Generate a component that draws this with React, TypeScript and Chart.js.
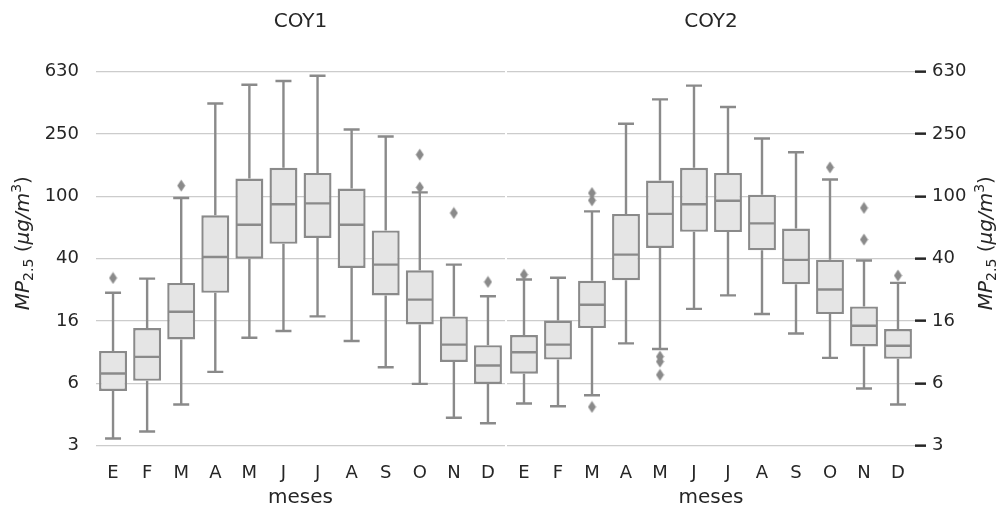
import React, { useEffect, useRef } from "react";
import { Chart, registerables } from "chart.js";

Chart.register(...registerables);

// ---------- data ----------
const months = ["E", "F", "M", "A", "M", "J", "J", "A", "S", "O", "N", "D"];
const yTickValues = [2.56, 6.4, 16, 40, 100, 250, 625];
const yTickLabels = ["3", "6", "16", "40", "100", "250", "630"];

const coy1Low = [2.84, 3.15, 4.68, 7.56, 12.5, 13.8, 17.1, 11.9, 8.09, 6.34, 3.85, 3.55];
const coy1Q1 = [5.72, 6.63, 12.2, 24.2, 40.0, 49.7, 54.2, 34.9, 23.3, 15.2, 8.76, 6.34];
const coy1Median = [7.38, 9.43, 18.3, 41.0, 65.9, 88.9, 90.2, 65.9, 36.6, 21.9, 11.3, 8.3];
const coy1Q3 = [10.3, 14.4, 28.0, 75.6, 130, 152, 141, 112, 60.6, 33.7, 17.1, 11.2];
const coy1High = [24.2, 29.8, 97.6, 392, 516, 545, 589, 267, 241, 106, 36.6, 23.0];
const coy1Outliers: [number, number][] = [
  [0, 30.1], [2, 117], [9, 184.5], [9, 114], [10, 78.3], [11, 28.4],
];

const coy2Low = [4.75, 4.56, 5.36, 11.5, 10.6, 19.1, 23.3, 17.7, 13.3, 9.29, 5.92, 4.68];
const coy2Q1 = [7.36, 9.07, 14.4, 29.1, 46.8, 59.3, 59.1, 45.2, 27.4, 17.7, 11.0, 9.16];
const coy2Median = [10.1, 11.3, 20.3, 42.4, 77.2, 88.9, 93.8, 67.2, 39.3, 25.4, 14.9, 11.1];
const coy2Q3 = [13.0, 16.1, 28.9, 77.2, 126, 152, 141, 102.5, 62.2, 39.4, 19.8, 14.2];
const coy2High = [29.4, 30.2, 80.2, 291, 416, 509, 372, 234, 191, 128, 38.9, 28.0];
const coy2Outliers: [number, number][] = [
  [0, 31.6], [2, 105], [2, 94.3], [2, 4.52], [4, 9.47], [4, 8.8], [4, 7.24],
  [9, 153], [10, 84.3], [10, 52.9], [11, 31.2],
];

const panelTitles = ["COY1", "COY2"];
const xTitle = "meses";
// y-axis title pieces: text, italic, small, vertical shift
const yTitleParts: [string, boolean, boolean, number][] = [
  ["MP", true, false, 0],
  ["2.5", false, true, 4],
  [" (", false, false, 0],
  ["\u03bcg/m", true, false, 0],
  ["3", false, true, -8],
  [")", false, false, 0],
];

// ---------- styles ----------
const LINE = "#8a8a8a";
const FILL = "#e5e5e5";
const GRID = "#cccccc";
const TEXT = "#262626";
const FONT = "'DejaVu Sans', sans-serif";
const LW = 2.4;
const Y_MIN = 2.07;
const Y_MAX = 855;

Chart.defaults.font.family = FONT;

type Stats = { low: number[]; q1: number[]; med: number[]; q3: number[]; high: number[] };

function makeDiamond(): HTMLCanvasElement {
  const c = document.createElement("canvas");
  c.width = 9;
  c.height = 13;
  const g = c.getContext("2d")!;
  g.fillStyle = LINE;
  g.beginPath();
  g.moveTo(4.5, 0.5);
  g.lineTo(8.5, 6.5);
  g.lineTo(4.5, 12.5);
  g.lineTo(0.5, 6.5);
  g.closePath();
  g.fill();
  return c;
}

// split the outlier list into layers of one value (or null) per month
function outlierLayers(list: [number, number][]): (number | null)[][] {
  const layers: (number | null)[][] = [];
  const count = months.map(() => 0);
  list.forEach(([i, v]) => {
    const k = count[i]++;
    if (!layers[k]) layers[k] = months.map(() => null);
    layers[k][i] = v;
  });
  return layers;
}

function makeBoxPlugin(s: Stats) {
  return {
    id: "boxWhiskers",
    afterDatasetsDraw(chart: any) {
      const xs = chart.scales.x;
      const ys = chart.scales.y;
      const ctx = chart.ctx as CanvasRenderingContext2D;
      const meta = chart.getDatasetMeta(0);
      ctx.save();
      ctx.strokeStyle = LINE;
      ctx.lineWidth = LW;
      ctx.lineCap = "butt";
      s.low.forEach((lo, i) => {
        const cx = xs.getPixelForValue(i);
        const bw = meta.data[i] ? meta.data[i].getProps(["width"], true).width : 28;
        const half = bw / 2;
        const cap = 8;
        const yLo = ys.getPixelForValue(lo);
        const yQ1 = ys.getPixelForValue(s.q1[i]);
        const yMed = ys.getPixelForValue(s.med[i]);
        const yQ3 = ys.getPixelForValue(s.q3[i]);
        const yHi = ys.getPixelForValue(s.high[i]);
        ctx.beginPath();
        ctx.moveTo(cx, yQ3);
        ctx.lineTo(cx, yHi);
        ctx.moveTo(cx - cap, yHi);
        ctx.lineTo(cx + cap, yHi);
        ctx.moveTo(cx, yQ1);
        ctx.lineTo(cx, yLo);
        ctx.moveTo(cx - cap, yLo);
        ctx.lineTo(cx + cap, yLo);
        ctx.moveTo(cx - half + 1, yMed);
        ctx.lineTo(cx + half - 1, yMed);
        ctx.stroke();
      });
      ctx.restore();
    },
  };
}

function makeYTitlePlugin(xPos: number) {
  return {
    id: "yTitleRich",
    afterDraw(chart: any) {
      const ctx = chart.ctx as CanvasRenderingContext2D;
      const ca = chart.chartArea;
      const cy = (ca.top + ca.bottom) / 2 - 12;
      const big = 20;
      const small = 14;
      const fontFor = (it: boolean, sm: boolean) =>
        `${it ? "italic " : ""}${sm ? small : big}px ${FONT}`;
      ctx.save();
      let total = 0;
      yTitleParts.forEach(([t, it, sm]) => {
        ctx.font = fontFor(it, sm);
        total += ctx.measureText(t).width;
      });
      ctx.translate(xPos, cy);
      ctx.rotate(-Math.PI / 2);
      ctx.fillStyle = TEXT;
      ctx.textBaseline = "alphabetic";
      ctx.textAlign = "left";
      let px = -total / 2;
      const base = 7;
      yTitleParts.forEach(([t, it, sm, dy]) => {
        ctx.font = fontFor(it, sm);
        ctx.fillText(t, px, base + dy);
        px += ctx.measureText(t).width;
      });
      ctx.restore();
    },
  };
}

function buildChart(
  canvas: HTMLCanvasElement,
  title: string,
  s: Stats,
  outliers: [number, number][],
  side: "left" | "right",
  diamond: HTMLCanvasElement
) {
  const isLeft = side === "left";
  const outlierSets = outlierLayers(outliers).map((layer) => ({
    type: "line",
    data: layer,
    showLine: false,
    pointStyle: diamond,
    pointRadius: 4,
    backgroundColor: LINE,
    borderColor: LINE,
    order: 1,
  }));
  return new Chart(canvas, {
    type: "bar",
    data: {
      labels: months,
      datasets: [
        {
          type: "bar",
          data: s.q1.map((v, i) => [v, s.q3[i]]) as any,
          backgroundColor: FILL,
          borderColor: LINE,
          borderWidth: LW,
          borderSkipped: false,
          barPercentage: 0.82,
          categoryPercentage: 1,
          order: 2,
        } as any,
        ...(outlierSets as any[]),
      ],
    },
    options: {
      animation: false,
      responsive: false,
      events: [],
      layout: {
        autoPadding: false,
        padding: { left: isLeft ? 0 : 1, right: isLeft ? 1 : 0, top: 0, bottom: 0 },
      },
      plugins: {
        legend: { display: false },
        tooltip: { enabled: false },
        title: {
          display: true,
          text: title,
          fullSize: false,
          color: TEXT,
          font: { size: 20, weight: "normal" as any, family: FONT },
          padding: { top: 10, bottom: 16.4 },
        },
      },
      scales: {
        x: {
          type: "category",
          offset: true,
          grid: { display: false, drawTicks: false },
          border: { display: false },
          ticks: { color: TEXT, font: { size: 18, family: FONT }, padding: 3 },
          title: {
            display: true,
            text: xTitle,
            color: TEXT,
            font: { size: 20, family: FONT },
            padding: { top: 0, bottom: -2 },
          },
          afterFit: (sc: any) => {
            sc.height = 48;
            sc.paddingLeft = 0;
            sc.paddingRight = 0;
          },
        },
        y: {
          type: "logarithmic",
          position: side,
          min: Y_MIN,
          max: Y_MAX,
          grid: {
            color: GRID,
            lineWidth: 1.3,
            drawTicks: !isLeft,
            tickLength: 11,
            tickColor: TEXT,
            tickWidth: 2.5,
          },
          border: { display: false },
          ticks: {
            color: TEXT,
            font: { size: 18, family: FONT },
            padding: isLeft ? 17 : 6,
            autoSkip: false,
            callback: (_v: any, i: number) => yTickLabels[i],
          },
          afterBuildTicks: (sc: any) => {
            sc.ticks = yTickValues.map((v) => ({ value: v }));
          },
          afterFit: (sc: any) => {
            sc.width = isLeft ? 96 : 85;
          },
        },
      },
    } as any,
    plugins: [makeBoxPlugin(s), makeYTitlePlugin(isLeft ? 22 : 479)],
  });
}

export default function App() {
  const leftRef = useRef<HTMLCanvasElement>(null);
  const rightRef = useRef<HTMLCanvasElement>(null);

  useEffect(() => {
    const diamond = makeDiamond();
    const c1 = buildChart(
      leftRef.current!,
      panelTitles[0],
      { low: coy1Low, q1: coy1Q1, med: coy1Median, q3: coy1Q3, high: coy1High },
      coy1Outliers,
      "left",
      diamond
    );
    const c2 = buildChart(
      rightRef.current!,
      panelTitles[1],
      { low: coy2Low, q1: coy2Q1, med: coy2Median, q3: coy2Q3, high: coy2High },
      coy2Outliers,
      "right",
      diamond
    );
    return () => {
      c1.destroy();
      c2.destroy();
    };
  }, []);

  return (
    <div style={{ position: "absolute", left: 0, top: 0, width: 1000, height: 508, background: "#fff" }}>
      <canvas ref={leftRef} width={506} height={508} style={{ position: "absolute", left: 0, top: 0 }} />
      <canvas ref={rightRef} width={494} height={508} style={{ position: "absolute", left: 506, top: 0 }} />
    </div>
  );
}
